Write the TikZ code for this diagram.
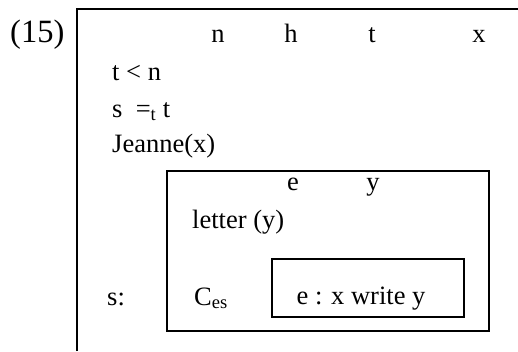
\documentclass[tikz,border=0pt]{standalone}
\usepackage{fontspec}
\setmainfont{Liberation Serif}

\begin{document}
\begin{tikzpicture}[
                x=1pt, y=-1pt,
                every node/.style={
                  inner sep=0pt,
                  font=\fontsize{26.5}{30}\selectfont,
                },
                cond/.style={anchor=base west},
                referent/.style={anchor=base},
                box/.style={draw, line width=1.3pt},
              ]
              \useasboundingbox (0,0) rectangle (518,351);
              % outer box, open at right and bottom
              \draw[line width=1.6pt] (77,351) -- (77,9) -- (518,9);
              \node[cond, font=\fontsize{32.5}{36}\selectfont] at (10,42) (num) {(15)} ;
              \node[referent] at (218,42) (rn) {n} ;
              \node[referent] at (291,42) (rh) {h} ;
              \node[referent] at (372,42) (rt) {t} ;
              \node[referent] at (479,42) (rx) {x} ;
              \node[cond] at (112,80) (c1) {t < n} ;
              \node[cond] at (112,117) (c2) {s\ \ =\textsubscript{t} t} ;
              \node[cond] at (112,152) (c3) {Jeanne(x)} ;
              % event box
              \draw[box] (167,171) rectangle (489,331) ;
              \node[referent] at (293,190) (re) {e} ;
              \node[referent] at (373,190) (ry) {y} ;
              \node[cond] at (192,228) (c4) {letter (y)} ;
              \node[cond] at (107,305) (slab) {s:} ;
              \node[cond] at (194,305) (ces) {C\textsubscript{es}} ;
              % core box
              \draw[box] (272,259) rectangle (464,317) ;
              \node[referent] at (361,304) (core) {e : x write y} ;
              \end{tikzpicture}
\end{document}
